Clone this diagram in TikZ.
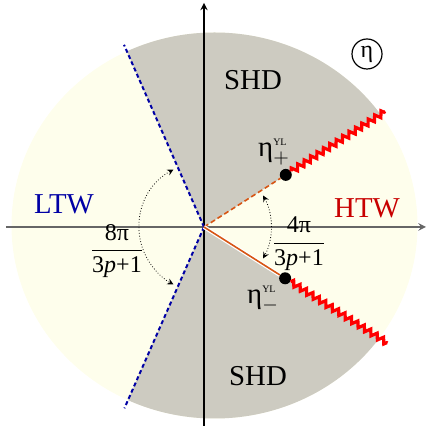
\documentclass[tikz,border=0pt]{standalone}
\usepackage{amsmath}
\usepackage{fontspec}
\setmainfont{Liberation Serif}
\usetikzlibrary{arrows, decorations.pathmorphing}

\definecolor{diskyellow}{RGB}{254,254,236}
\definecolor{shdgray}{RGB}{205,203,193}
\definecolor{ltwblue}{RGB}{0,0,165}
\definecolor{htwred}{RGB}{200,0,0}
\definecolor{cutorange}{RGB}{215,85,20}

\tikzset{
  dot/.style={circle, fill=black, inner sep=0pt, minimum size=6pt},
  wall/.style={ltwblue, line width=1pt, dash pattern=on 2pt off 1.4pt},
  branchcut/.style={red, line width=1.6pt, decorate, decoration={zigzag, segment length=3.8pt, amplitude=1.4pt}},
  anglearc/.style={<->, densely dotted, line width=0.4pt},
}

\begin{document}
\begin{tikzpicture}[>=stealth, x=0.5pt, y=0.5pt]
  \useasboundingbox (-204,-199) rectangle (223,227);

  % Disk with the two SHD sectors
  \fill[diskyellow] (10.5,1.5) ellipse [x radius=203, y radius=193];
  \begin{scope}
    \clip (10.5,1.5) ellipse [x radius=203, y radius=193];
    \fill[shdgray] (0,0) -- (32.5:400) -- (90:400) -- (113.7:400) -- cycle;
    \fill[shdgray] (0,0) -- (-32.3:400) -- (-90:400) -- (-113.7:400) -- cycle;
  \end{scope}

  % Axes
  \coordinate (O) at (0,0);
  \coordinate (xl) at (-198,0);
  \coordinate (xr) at (222,0);
  \coordinate (yb) at (0,-199);
  \coordinate (yt) at (0,224);
  \draw[->, black!60, line width=0.7pt] (xl) -- (xr);
  \draw[->, line width=0.6pt] (yb) -- (yt);

  % LTW boundaries
  \coordinate (ltwtop) at (113.7:199);
  \coordinate (ltwbot) at (-113.7:198);
  \draw[wall] (O) -- (ltwtop);
  \draw[wall] (O) -- (ltwbot);

  % Yang-Lee points and cuts
  \node[dot] (etap) at (32.5:97) {};
  \node[dot] (etam) at (-32.3:96) {};
  \coordinate (etapend) at (32.5:215);
  \coordinate (etamend) at (-32.3:217);
  \draw[cutorange, line width=0.8pt, dash pattern=on 2.5pt off 1.5pt] (O) -- (etap);
  \draw[white, line width=2pt] (O) -- (etam);
  \draw[cutorange, line width=0.8pt] (O) -- (etam);
  \draw[branchcut] (etap) -- (etapend);
  \draw[branchcut] (etam) -- (etamend);

  % Angles
  \draw[anglearc] (28:67) arc[start angle=28, end angle=-28, radius=67];
  \draw[anglearc] (118:65) arc[start angle=118, end angle=242, radius=65];

  % Labels
  \node (shdtop) at (49,147) {\Large SHD};
  \node (shdbot) at (54,-149) {\Large SHD};
  \node[text=ltwblue] (ltw) at (-140,23) {\Large LTW};
  \node[text=htwred] (htw) at (163,19) {\Large HTW};
  \node[font=\large, inner sep=0pt] (angl) at (-87,-24) {\(\dfrac{\text{8π}}{\text{3\textit{p}+1}}\)};
  \node[font=\large, inner sep=0pt] (angr) at (95,-17) {\(\dfrac{\text{4π}}{\text{3\textit{p}+1}}\)};
  \node[font=\Large, inner sep=0pt] (lblp) at (70,75) {\(\text{η}^{\text{\tiny YL}}_{+}\)};
  \node[font=\Large, inner sep=0pt] (lblm) at (59,-72) {\(\text{η}^{\text{\tiny YL}}_{-}\)};
  \node[draw, circle, inner sep=1pt, minimum size=15pt, line width=0.6pt, font=\large] (plane) at (163,173) {η};
\end{tikzpicture}
\end{document}
